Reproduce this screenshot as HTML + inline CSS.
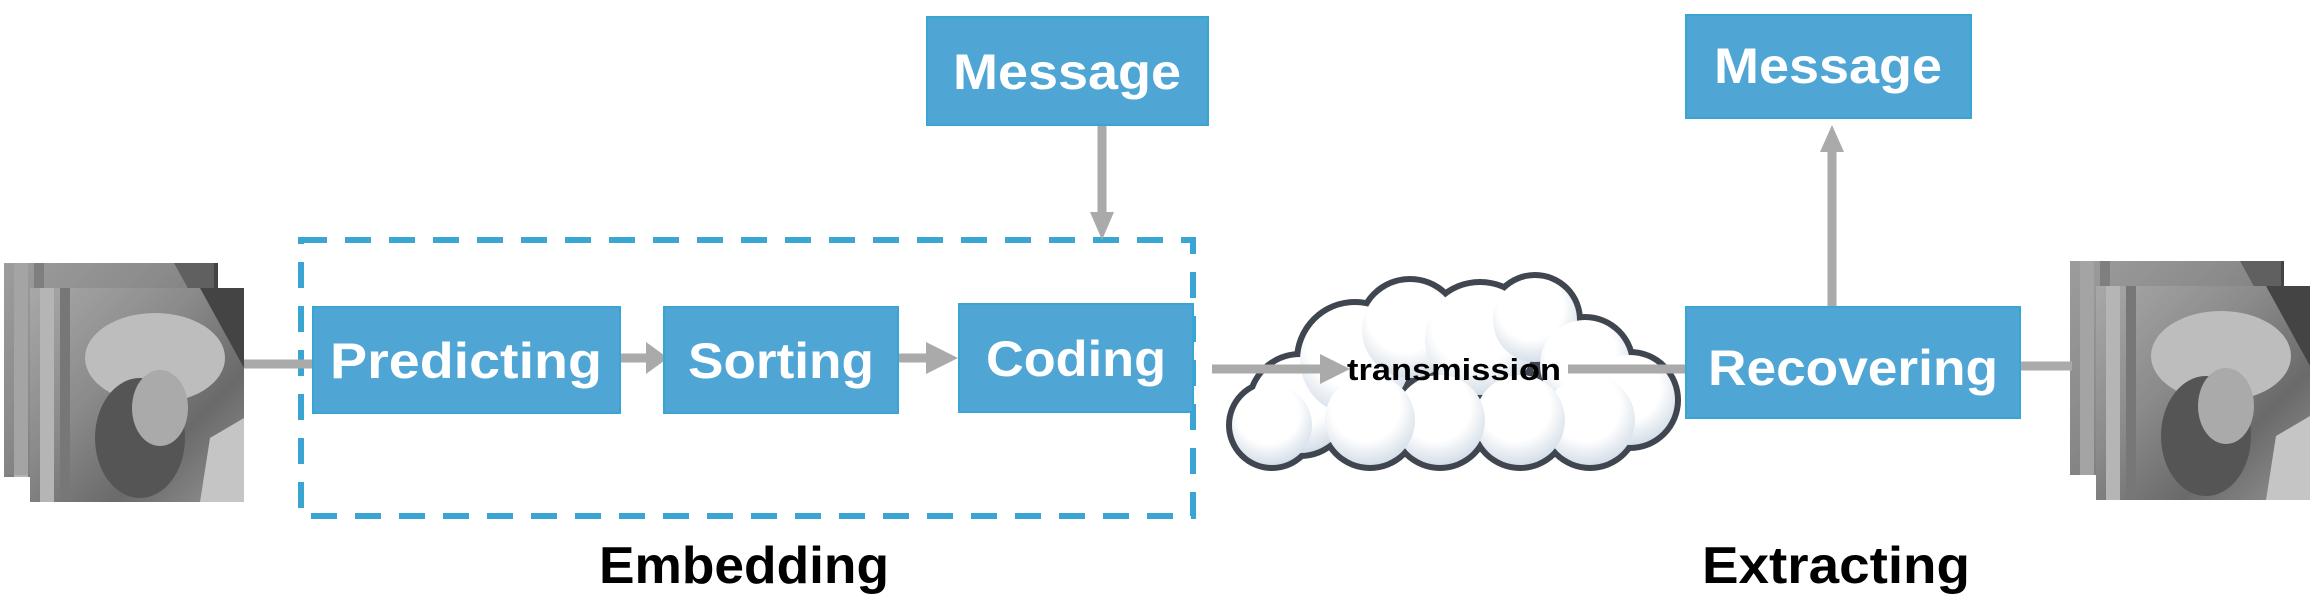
<!DOCTYPE html>
<html><head><meta charset="utf-8"><style>
html,body{margin:0;padding:0;background:#fff;}
body{width:2315px;height:605px;position:relative;overflow:hidden;font-family:"Liberation Sans",sans-serif;}
</style></head><body>
<svg width="2315" height="605" viewBox="0 0 2315 605" xmlns="http://www.w3.org/2000/svg" style="position:absolute;left:0;top:0">
<defs>
<linearGradient id="lena" x1="0" y1="0" x2="1" y2="1">
<stop offset="0" stop-color="#a8a8a8"/><stop offset="0.4" stop-color="#8a8a8a"/><stop offset="0.7" stop-color="#6a6a6a"/><stop offset="1" stop-color="#959595"/>
</linearGradient>
<radialGradient id="puff" cx="0.45" cy="0.35" r="0.7">
<stop offset="0.55" stop-color="#ffffff"/><stop offset="1" stop-color="#cdd8e4"/>
</radialGradient>
<g id="lenaimg">
<rect x="0" y="0" width="214" height="214" fill="url(#lena)"/>
<rect x="10" y="0" width="14" height="214" fill="#b5b5b5"/>
<rect x="30" y="0" width="10" height="214" fill="#777"/>
<ellipse cx="125" cy="70" rx="70" ry="45" fill="#bdbdbd"/>
<ellipse cx="110" cy="150" rx="45" ry="60" fill="#555"/>
<ellipse cx="130" cy="120" rx="28" ry="38" fill="#aaa"/>
<path d="M170 0 L214 0 L214 80 Z" fill="#444"/>
<path d="M180 150 L214 130 L214 214 L170 214 Z" fill="#c5c5c5"/>
</g>
</defs>

<use href="#lenaimg" x="4" y="263"/>
<rect x="4" y="263" width="210" height="212" fill="#8c8c8c" opacity="0.4"/>
<use href="#lenaimg" x="30" y="288"/>

<use href="#lenaimg" x="2070" y="261"/>
<rect x="2070" y="261" width="211" height="214" fill="#8c8c8c" opacity="0.4"/>
<use href="#lenaimg" x="2096" y="286"/>

<rect x="301" y="240" width="892" height="276" fill="none" stroke="#3aa5d3" stroke-width="6" stroke-dasharray="26,18"/>

<g stroke="#aaaaaa" stroke-width="9" fill="none">
<line x1="244" y1="364" x2="315" y2="364"/>
<line x1="620" y1="358" x2="648" y2="358"/>
<line x1="898" y1="358" x2="928" y2="358"/>
<line x1="1102" y1="125" x2="1102" y2="215"/>
<line x1="1832" y1="307" x2="1832" y2="150"/>
<line x1="2018" y1="366" x2="2072" y2="366"/>
</g>
<g fill="#aaaaaa">
<polygon points="646,342 668,358 646,374"/>
<polygon points="926,342 958,358 926,374"/>
<polygon points="1090,212 1114,212 1102,240"/>
<polygon points="1820,152 1844,152 1832,125"/>
</g>

<g stroke="#3f4650" stroke-width="12" fill="#fff">
<circle cx="1300" cy="405" r="48"/><circle cx="1355" cy="360" r="55"/><circle cx="1410" cy="330" r="48"/>
<circle cx="1480" cy="340" r="55"/><circle cx="1535" cy="320" r="42"/><circle cx="1585" cy="365" r="45"/>
<circle cx="1630" cy="400" r="45"/><circle cx="1590" cy="420" r="45"/><circle cx="1520" cy="420" r="45"/>
<circle cx="1440" cy="420" r="45"/><circle cx="1370" cy="420" r="45"/><circle cx="1272" cy="425" r="40"/>
</g>
<g fill="url(#puff)">
<circle cx="1300" cy="405" r="48"/><circle cx="1355" cy="360" r="55"/><circle cx="1410" cy="330" r="48"/>
<circle cx="1480" cy="340" r="55"/><circle cx="1535" cy="320" r="42"/><circle cx="1585" cy="365" r="45"/>
<circle cx="1630" cy="400" r="45"/><circle cx="1590" cy="420" r="45"/><circle cx="1520" cy="420" r="45"/>
<circle cx="1440" cy="420" r="45"/><circle cx="1370" cy="420" r="45"/><circle cx="1272" cy="425" r="40"/>
</g>
<line x1="1212" y1="369" x2="1325" y2="369" stroke="#aaaaaa" stroke-width="9"/>
<polygon points="1320,354 1350,369 1320,384" fill="#aaaaaa"/>
<line x1="1568" y1="369" x2="1690" y2="369" stroke="#aaaaaa" stroke-width="9"/>
<text x="1454" y="380" font-family="Liberation Sans" font-weight="bold" font-size="31" text-anchor="middle" textLength="214" lengthAdjust="spacingAndGlyphs" fill="#000">transmission</text>

<g fill="#4fa6d5" stroke="#3aa5d3" stroke-width="2">
<rect x="927" y="17" width="281" height="108"/>
<rect x="313" y="307" width="307" height="106"/>
<rect x="664" y="307" width="234" height="106"/>
<rect x="959" y="304" width="234" height="108"/>
<rect x="1686" y="15" width="285" height="103"/>
<rect x="1686" y="307" width="334" height="111"/>
</g>
<g fill="#fff" font-family="Liberation Sans" font-weight="bold" font-size="50" text-anchor="middle">
<text x="1067" y="89" textLength="228" lengthAdjust="spacingAndGlyphs">Message</text>
<text x="466" y="378" textLength="272" lengthAdjust="spacingAndGlyphs">Predicting</text>
<text x="781" y="378" textLength="186" lengthAdjust="spacingAndGlyphs">Sorting</text>
<text x="1076" y="376" textLength="180" lengthAdjust="spacingAndGlyphs">Coding</text>
<text x="1828" y="83" textLength="228" lengthAdjust="spacingAndGlyphs">Message</text>
<text x="1853" y="385" textLength="290" lengthAdjust="spacingAndGlyphs">Recovering</text>
</g>
<g fill="#000" font-family="Liberation Sans" font-weight="bold" font-size="52" text-anchor="middle">
<text x="744" y="583" textLength="290" lengthAdjust="spacingAndGlyphs">Embedding</text>
<text x="1836" y="583" textLength="268" lengthAdjust="spacingAndGlyphs">Extracting</text>
</g>
</svg>
</body></html>
